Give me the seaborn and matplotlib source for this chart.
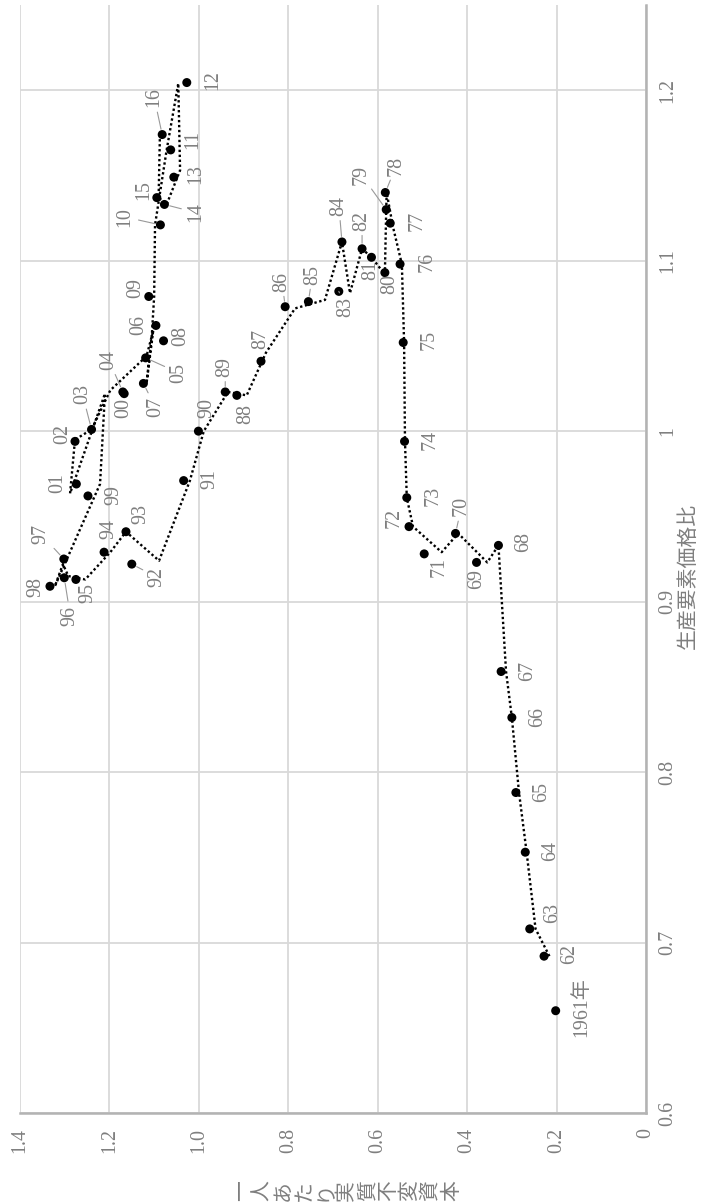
import numpy as np
import pandas as pd
import matplotlib
matplotlib.use("Agg")
import matplotlib.pyplot as plt
import seaborn as sns

# Data (chart is drawn turned on its side)
years = ['1961年', '62', '63', '64', '65', '66', '67', '68', '69', '70',
         '71', '72', '73', '74', '75', '76', '77', '78', '79', '80',
         '81', '82', '83', '84', '85', '86', '87', '88', '89', '90',
         '91', '92', '93', '94', '95', '96', '97', '98', '99', '00',
         '01', '02', '03', '04', '05', '06', '07', '08', '09', '10',
         '11', '12', '13', '14', '15', '16']

# real fixed capital per worker (dots)
capital = [0.202, 0.228, 0.260, 0.270, 0.291, 0.300, 0.324, 0.330, 0.379, 0.426,
           0.496, 0.530, 0.535, 0.540, 0.543, 0.550, 0.572, 0.583, 0.581, 0.584,
           0.614, 0.635, 0.687, 0.680, 0.755, 0.807, 0.861, 0.915, 0.941, 1.001,
           1.034, 1.150, 1.163, 1.212, 1.275, 1.301, 1.302, 1.333, 1.248, 1.167,
           1.274, 1.277, 1.240, 1.170, 1.119, 1.096, 1.124, 1.079, 1.112, 1.086,
           1.063, 1.027, 1.056, 1.077, 1.094, 1.082]
# factor price ratio (dots)
price_ratio = [0.660, 0.692, 0.708, 0.753, 0.788, 0.832, 0.859, 0.933, 0.923, 0.940,
               0.928, 0.944, 0.961, 0.994, 1.052, 1.098, 1.122, 1.140, 1.130, 1.093,
               1.102, 1.107, 1.082, 1.111, 1.076, 1.073, 1.041, 1.021, 1.023, 1.000,
               0.971, 0.922, 0.941, 0.929, 0.913, 0.914, 0.925, 0.909, 0.962, 1.022,
               0.969, 0.994, 1.001, 1.023, 1.043, 1.062, 1.028, 1.053, 1.079, 1.121,
               1.165, 1.2045, 1.149, 1.133, 1.137, 1.174]

# dotted line series (1962-2016)
capital_line = [0.216, 0.247, 0.267, 0.284, 0.300, 0.313, 0.330, 0.355, 0.420,
                0.457, 0.521, 0.535, 0.539, 0.541, 0.546, 0.566, 0.580, 0.581, 0.584,
                0.614, 0.635, 0.662, 0.680, 0.718, 0.785, 0.850, 0.893, 0.935, 0.989,
                1.020, 1.089, 1.163, 1.198, 1.254, 1.292, 1.304, 1.322, 1.221, 1.210,
                1.288, 1.277, 1.240, 1.198, 1.117, 1.102, 1.117, 1.105, 1.100, 1.098,
                1.072, 1.046, 1.042, 1.072, 1.090, 1.087]
price_line = [0.692, 0.708, 0.753, 0.788, 0.832, 0.859, 0.933, 0.923, 0.940,
              0.929, 0.944, 0.961, 0.994, 1.052, 1.098, 1.120, 1.140, 1.130, 1.092,
              1.102, 1.107, 1.081, 1.111, 1.077, 1.072, 1.046, 1.021, 1.023, 1.000,
              0.971, 0.924, 0.941, 0.929, 0.913, 0.915, 0.922, 0.909, 0.969, 1.022,
              0.9635, 0.995, 1.001, 1.024, 1.044, 1.059, 1.028, 1.057, 1.079, 1.121,
              1.165, 1.204, 1.153, 1.133, 1.137, 1.175]

xticks = [1.4, 1.2, 1.0, 0.8, 0.6, 0.4, 0.2, 0]
xticklabels = ['1.4', '1.2', '1.0', '0.8', '0.6', '0.4', '0.2', '0']
yticks = [0.6, 0.7, 0.8, 0.9, 1.0, 1.1, 1.2]
yticklabels = ['0.6', '0.7', '0.8', '0.9', '1', '1.1', '1.2']

# label offsets in pixels (dx, dy up); leader = draw a thin line
label_pos = {
    '1961年': (26, 4, False), '62': (26, 2, False), '63': (23, 16, False),
    '64': (25, 1, False), '65': (26, 1, False), '66': (26, 1, False),
    '67': (26, 1, False), '68': (25, 3, False), '69': (0, -17, False),
    '70': (6, 27, True), '71': (15, -13, False), '72': (-15, 9, False),
    '73': (26, 2, False), '74': (26, 1, False), '75': (26, 3, False),
    '76': (27, 2, False), '77': (27, 2, False), '78': (11, 27, True),
    '79': (-25, 35, True), '80': (5, -11, False), '81': (-1, -13, False),
    '82': (0, 28, True), '83': (7, -16, True), '84': (-3, 36, True),
    '85': (4, 27, True), '86': (-3, 25, True), '87': (0, 22, False),
    '88': (9, -19, False), '89': (0, 25, True), '90': (8, 23, False),
    '91': (26, 2, False), '92': (25, -13, True), '93': (15, 18, False),
    '94': (5, 23, False), '95': (12, -14, False), '96': (6, -38, True),
    '97': (-23, 25, True), '98': (-14, -1, False), '99': (26, 1, False),
    '00': (0, -14, False), '01': (-19, 1, False), '02': (-12, 7, False),
    '03': (-9, 35, True), '04': (-14, 32, True), '05': (33, -15, True),
    '06': (-17, 0, False), '07': (12, -24, True), '08': (17, 5, False),
    '09': (-13, 8, False), '10': (-36, 8, True), '11': (22, 10, False),
    '12': (26, 2, False), '13': (22, 3, False), '14': (31, -8, True),
    '15': (-13, 8, False), '16': (-8, 37, True),
}

dots = pd.DataFrame({'year': years, 'K': capital, 'R': price_ratio})
line = pd.DataFrame({'K': capital_line, 'R': price_line})

sns.set_theme(style='white')
plt.rcParams['font.family'] = ['Liberation Serif', 'Noto Sans CJK JP']
grey = '#7f7f7f'

fig = plt.figure(figsize=(7.17, 12.04), dpi=100)
ax = fig.add_axes([20 / 717, 91 / 1204, 626 / 717, 1108 / 1204])

sns.lineplot(data=line, x='K', y='R', sort=False, estimator=None, ax=ax,
             color='black', lw=1.7, linestyle=(0, (1, 1.1)), zorder=2)
sns.scatterplot(data=dots, x='K', y='R', color='black', s=42,
                edgecolor='none', ax=ax, zorder=3)

for yr, k, r in zip(years, capital, price_ratio):
    dx, dy, leader = label_pos[yr]
    arrow = dict(arrowstyle='-', color='#999999', lw=0.8,
                 shrinkA=1, shrinkB=4) if leader else None
    ax.annotate(yr, (k, r), xytext=(dx, dy), textcoords='offset pixels',
                rotation=90, ha='center', va='center', fontsize=14.4,
                color=grey, arrowprops=arrow, zorder=4)

ax.set_xlim(1.4, 0)
ax.set_ylim(0.6, 1.25)
ax.set_xticks(xticks)
ax.set_xticklabels(xticklabels)
ax.set_yticks(yticks)
ax.set_yticklabels(yticklabels)
ax.yaxis.tick_right()
ax.set_xlabel('')
ax.set_ylabel('')
ax.tick_params(axis='x', length=0, pad=11, labelsize=14.4, colors=grey)
ax.tick_params(axis='y', length=0, pad=9, labelsize=14.4, colors=grey)
for t in ax.get_xticklabels():
    t.set_rotation(90)
for t in ax.get_yticklabels():
    t.set_rotation(90)
    t.set_va('center')

ax.grid(True, color='#d9d9d9', lw=1.3)
for side in ['top', 'left']:
    ax.spines[side].set_visible(False)
for side in ['right', 'bottom']:
    ax.spines[side].set_color('#b3b3b3')
    ax.spines[side].set_linewidth(1.8)

fig.text(688 / 717, 1 - 576 / 1204, '生産要素価格比', rotation=90,
         ha='center', va='center', fontsize=15, color=grey,
         family=['Noto Sans CJK JP'])
fig.text(346 / 717, 1 - 1180 / 1204, '\n'.join('一人あたり実質不変資本'),
         rotation=90, ha='center', va='top', fontsize=15, linespacing=0.95,
         color=grey, family=['Noto Sans CJK JP'])

fig.savefig('out.png', dpi=100)
